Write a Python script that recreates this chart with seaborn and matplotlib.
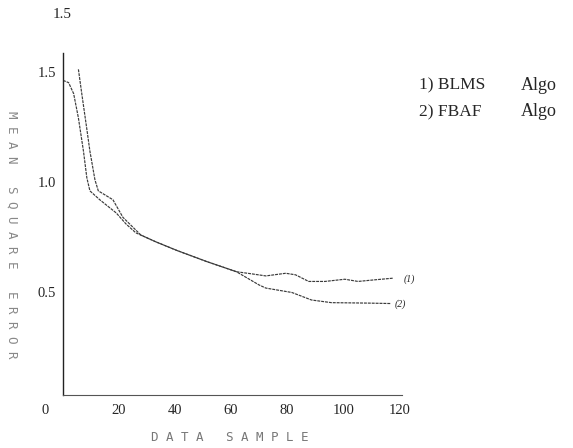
import matplotlib
matplotlib.use("Agg")
import matplotlib.pyplot as plt
import matplotlib.transforms as mtransforms
import seaborn as sns
import pandas as pd

# ---- data ----
blms_x = [5.5, 6.7, 8.5, 9.6, 11.4, 12.6, 17.8, 21.4, 27.8, 33, 40.7, 51.3, 61.9,
          67, 72.4, 79.5, 83, 87.7, 93.5, 100.6, 105.3, 111, 118]
blms_y = [1.51, 1.40, 1.24, 1.14, 1.01, 0.96, 0.92, 0.84, 0.76, 0.73, 0.69, 0.64, 0.594,
          0.585, 0.575, 0.587, 0.58, 0.55, 0.55, 0.56, 0.55, 0.557, 0.565]
fbaf_x = [0, 2, 3.8, 5.5, 7.3, 8.5, 9.6, 13.1, 19, 22.5, 26, 33, 40.7, 51.3, 61.9,
          70, 72.4, 81.7, 88.7, 95.8, 108.8, 117]
fbaf_y = [1.46, 1.45, 1.40, 1.29, 1.14, 1.02, 0.96, 0.92, 0.86, 0.81, 0.77, 0.73, 0.69,
          0.64, 0.594, 0.534, 0.52, 0.50, 0.466, 0.454, 0.452, 0.45]
x_ticks = [0, 20, 40, 60, 80, 100, 120]
y_ticks = [0.5, 1.0, 1.5]
legend_names = ["1) BLMS", "2) FBAF"]
legend_suffix = "Algo"
curve_tags = ["(1)", "(2)"]

df = pd.concat([
    pd.DataFrame({"x": blms_x, "y": blms_y, "algo": "BLMS"}),
    pd.DataFrame({"x": fbaf_x, "y": fbaf_y, "algo": "FBAF"}),
])

sns.set_style("white")
fig = plt.figure(figsize=(5.73, 4.48), dpi=100)
ax = fig.add_axes([63 / 573, 53 / 448, 339 / 573, 342 / 448])

for name in ["BLMS", "FBAF"]:
    sub = df[df["algo"] == name]
    sns.lineplot(data=sub, x="x", y="y", ax=ax, color="#3a3a3a", linewidth=0.85,
                 linestyle=(0, (2.5, 0.8)), sort=False, estimator=None, legend=False)

ax.set_xlim(0, 121)
ax.set_ylim(0.036, 1.584)
ax.set_xticks(x_ticks)
ax.set_yticks(y_ticks)
ax.set_xticklabels([str(v) for v in x_ticks], family="Liberation Serif", fontsize=10.5)
ax.set_yticklabels(["0.5", "1.0", "1.5"], family="Liberation Serif", fontsize=10.5)
ax.tick_params(axis="x", direction="inout", length=7, width=0.8, color="#444444", pad=3)
ax.tick_params(axis="y", length=0, pad=5)
# shift "0" label left as in reference
off = mtransforms.ScaledTranslation(-18 / 100, 0, fig.dpi_scale_trans)
lab0 = ax.get_xticklabels()[0]
lab0.set_transform(lab0.get_transform() + off)

for s in ["top", "right"]:
    ax.spines[s].set_visible(False)
ax.spines["left"].set_color("#222222")
ax.spines["left"].set_linewidth(1.0)
ax.spines["bottom"].set_color("#555555")
ax.spines["bottom"].set_linewidth(0.8)
ax.spines["bottom"].set_linestyle((0, (3, 1)))
ax.set_xlabel("")
ax.set_ylabel("")

mono = "DejaVu Sans Mono"
fig.text(230 / 573, 1 - 437 / 448, "D A T A   S A M P L E", family=mono, fontsize=9,
         color="#777777", ha="center", va="center")
fig.text(12 / 573, 1 - 235 / 448, "M E A N   S Q U A R E   E R R O R", family=mono,
         fontsize=9, color="#888888", ha="center", va="center", rotation=270)
fig.text(62 / 573, 1 - 14 / 448, "1.5", family="Liberation Serif", fontsize=11,
         ha="center", va="center")
for i, t in enumerate(legend_names):
    y = 1 - (85 + 27 * i) / 448
    fig.text(419 / 573, y, t, family="Liberation Serif", fontsize=12.5,
             ha="left", va="center")
    fig.text(521 / 573, y, legend_suffix, family="Liberation Serif", fontsize=13,
             ha="left", va="center")
ax.text(121.5, 0.562, curve_tags[0], family="Liberation Serif", fontsize=7,
        style="italic", ha="left", va="center")
ax.text(118.5, 0.445, curve_tags[1], family="Liberation Serif", fontsize=7,
        style="italic", ha="left", va="center")

fig.savefig("out.png", dpi=100)
